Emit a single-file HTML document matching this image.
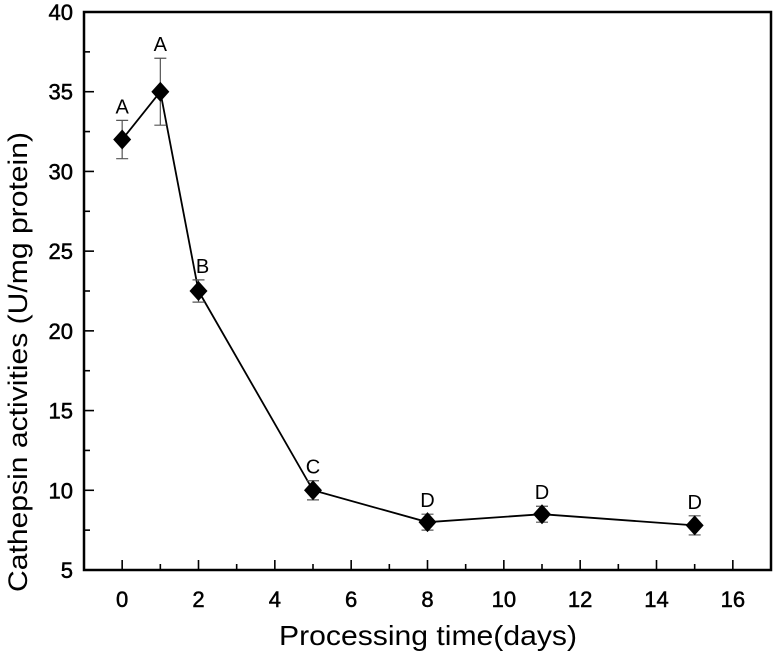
<!DOCTYPE html>
<html><head><meta charset="utf-8"><style>
html,body{margin:0;padding:0;background:#fff;}
svg{display:block;font-family:"Liberation Sans",Arial,sans-serif;}
</style></head><body>
<svg id="chart" width="774" height="657" viewBox="0 0 774 657">
<g id="axes"></g>
<g id="marks"></g>
<text x="428" y="645" text-anchor="middle" font-size="28" textLength="298" lengthAdjust="spacingAndGlyphs">Processing time(days)</text>
<text transform="translate(27,362) rotate(-90)" text-anchor="middle" font-size="27" textLength="460" lengthAdjust="spacingAndGlyphs">Cathepsin activities (U/mg protein)</text>
</svg>
<script>
const days = [0, 1, 2, 5, 8, 11, 15];
const activity = [32, 35, 22.5, 10, 8, 8.5, 7.8];
const errors = [1.2, 2.1, 0.7, 0.6, 0.5, 0.5, 0.6];
const letters = ["A", "A", "B", "C", "D", "D", "D"];
const xTicks = [0, 2, 4, 6, 8, 10, 12, 14, 16];
const yTicks = [5, 10, 15, 20, 25, 30, 35, 40];

const L=84,R=771,T=12,B=570;
const xMin=-1,xMax=17,yMin=5,yMax=40;
const sx=v=>L+(v-xMin)/(xMax-xMin)*(R-L);
const sy=v=>B-(v-yMin)/(yMax-yMin)*(B-T);
const NS="http://www.w3.org/2000/svg";
function mk(tag,attrs,parent,text){const e=document.createElementNS(NS,tag);for(const k in attrs)e.setAttribute(k,attrs[k]);if(text!==undefined)e.textContent=text;parent.appendChild(e);return e;}
const axes=document.getElementById('axes'), marks=document.getElementById('marks');

let f=mk('rect',{x:L,y:T,width:R-L,height:B-T,fill:'none',stroke:'#000','stroke-width':2.5},axes);



for(let v=0;v<=16;v++){
  const x=sx(v),major=v%2===0;
  const t=mk('line',{x1:x,x2:x,y1:B,y2:B-(major?10:6),stroke:'#000','stroke-width':1.6},axes);
  
  
}
xTicks.forEach(v=>{
  const t=mk('text',{x:sx(v),y:B+37,'text-anchor':'middle','font-size':22,stroke:'#000','stroke-width':0.5},axes,String(v));
  
  
});
for(let v=5;v<=40;v+=2.5){
  const y=sy(v),major=v%5===0;
  const t=mk('line',{x1:L,x2:L+(major?10:6),y1:y,y2:y,stroke:'#000','stroke-width':1.6},axes);
  
  
}
yTicks.forEach(v=>{
  const t=mk('text',{x:L-11,y:sy(v)+8,'text-anchor':'end','font-size':22,stroke:'#000','stroke-width':0.5},axes,String(v));
  
  
});

const pts=days.map((d,i)=>sx(d)+','+sy(activity[i])).join(' ');
const line=mk('polyline',{points:pts,fill:'none',stroke:'#000','stroke-width':1.8},marks);



days.forEach((d,i)=>{
  const x=sx(d),y=sy(activity[i]),yt=sy(activity[i]+errors[i]),yb=sy(activity[i]-errors[i]);
  const eb=mk('path',{d:`M${x},${yt}V${yb}M${x-6},${yt}H${x+6}M${x-6},${yb}H${x+6}`,stroke:'#555','stroke-width':1.2,fill:'none'},marks);
  
  
  const m=mk('path',{d:`M${x},${y-10}L${x+9},${y}L${x},${y+10}L${x-9},${y}Z`,fill:'#000'},marks);
  
  
  const lb=mk('text',{x:x+(i===2?4:0),y:yt-7,'text-anchor':'middle','font-size':20},marks,letters[i]);
  
  
});
</script>
</body></html>
